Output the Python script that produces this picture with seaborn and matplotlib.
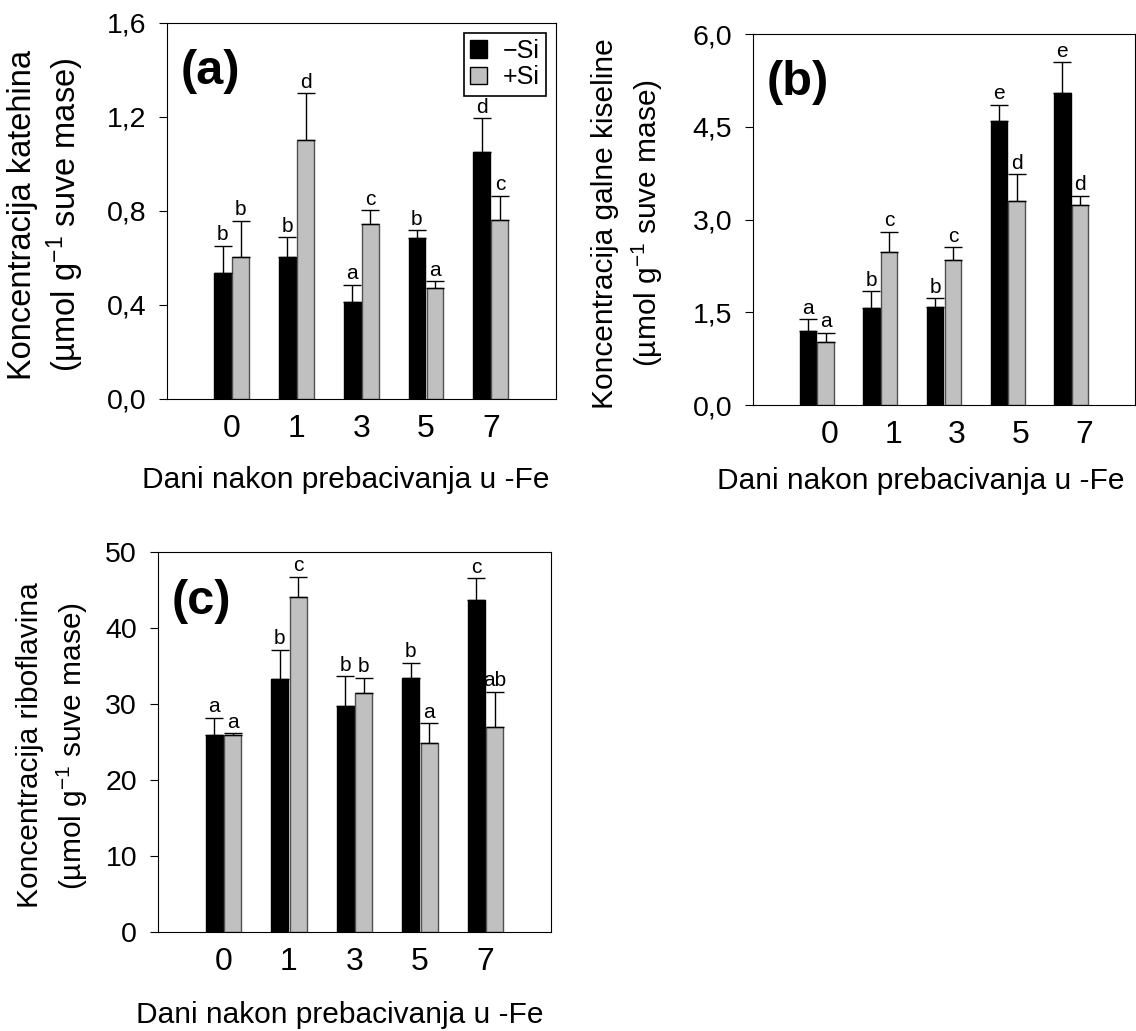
import numpy as np
import pandas as pd
import matplotlib
matplotlib.use('Agg')
import matplotlib.pyplot as plt
import seaborn as sns
from matplotlib.ticker import FuncFormatter

sns.set_style("ticks")
plt.rcParams['font.family'] = ['Liberation Sans', 'DejaVu Sans']
plt.rcParams['mathtext.default'] = 'regular'
plt.rcParams['text.color'] = 'black'
plt.rcParams['axes.labelcolor'] = 'black'
plt.rcParams['xtick.color'] = 'black'
plt.rcParams['ytick.color'] = 'black'

# days after transfer to -Fe
days = ['0', '1', '3', '5', '7']
groups = ['\u2212Si', '+Si']

# (a) catechin
kat_minus = [0.535, 0.602, 0.413, 0.683, 1.05]
kat_plus = [0.605, 1.10, 0.744, 0.470, 0.763]
kat_minus_err = [0.117, 0.085, 0.073, 0.034, 0.143]
kat_plus_err = [0.153, 0.20, 0.060, 0.030, 0.102]
kat_minus_let = ['b', 'b', 'a', 'b', 'd']
kat_plus_let = ['b', 'd', 'c', 'a', 'c']

# (b) gallic acid
gal_minus = [1.20, 1.565, 1.587, 4.60, 5.04]
gal_plus = [1.025, 2.47, 2.342, 3.303, 3.238]
gal_minus_err = [0.19, 0.28, 0.14, 0.26, 0.50]
gal_plus_err = [0.146, 0.335, 0.216, 0.43, 0.146]
gal_minus_let = ['a', 'b', 'b', 'e', 'e']
gal_plus_let = ['a', 'c', 'c', 'd', 'd']

# (c) riboflavin
rib_minus = [25.96, 33.2, 29.74, 33.33, 43.68]
rib_plus = [25.96, 44.0, 31.45, 24.78, 26.97]
rib_minus_err = [2.2, 3.9, 3.86, 2.06, 2.8]
rib_plus_err = [0.15, 2.7, 2.0, 2.63, 4.6]
rib_minus_let = ['a', 'b', 'b', 'b', 'c']
rib_plus_let = ['a', 'c', 'b', 'a', 'ab']

palette = {groups[0]: 'black', groups[1]: '#c0c0c0'}
xlabel = 'Dani nakon prebacivanja u -Fe'
unit = '(\u00b5mol g$^{-1}$ suve mase)'


def comma(v, pos):
    return f'{v:.1f}'.replace('.', ',')


def panel(ax, minus, plus, minus_err, plus_err, minus_let, plus_let,
          yticks, ylab, tag, fmt, xshift, ylab_x, ylab_size, ylab_ls,
          xlab_x, xlab_y):
    df = pd.DataFrame({
        'dan': days * 2,
        'grupa': [groups[0]] * 5 + [groups[1]] * 5,
        'vrednost': list(minus) + list(plus),
    })
    sns.barplot(data=df, x='dan', y='vrednost', hue='grupa', palette=palette,
                order=days, hue_order=groups, width=0.56, gap=0.08,
                errorbar=None, edgecolor='black', linewidth=1.0,
                saturation=1, ax=ax)
    for bar in ax.containers[1]:
        bar.set_edgecolor('#505050')

    # upper error bars and significance letters
    for cont, errs, lets in [(ax.containers[0], minus_err, minus_let),
                             (ax.containers[1], plus_err, plus_let)]:
        xs = [b.get_x() + b.get_width() / 2 for b in cont]
        ys = [b.get_height() for b in cont]
        ax.errorbar(xs, ys, yerr=[np.zeros(len(errs)), errs], fmt='none',
                    ecolor='black', elinewidth=1.0, capsize=6.5,
                    capthick=1.0)
        for x, y, e, t in zip(xs, ys, errs, lets):
            ax.annotate(t, (x, y + e), xytext=(0, 1),
                        textcoords='offset points', ha='center',
                        va='bottom', fontsize=15)

    ax.set_xlim(-1, 5)
    ax.set_ylim(yticks[0], yticks[-1])
    ax.set_yticks(yticks)
    ax.yaxis.set_major_formatter(FuncFormatter(fmt))
    ax.set_xticks(np.arange(len(days)) + xshift)
    ax.set_xticklabels(days)
    ax.tick_params(axis='x', length=0, pad=11, labelsize=23)
    ax.tick_params(axis='y', length=6, width=0.8, pad=9, labelsize=20.5,
                   direction='out')
    for s in ax.spines.values():
        s.set_visible(True)
        s.set_linewidth(0.8)
        s.set_color('black')

    ax.set_ylabel(ylab + '\n' + unit, fontsize=ylab_size, linespacing=ylab_ls)
    ax.yaxis.set_label_coords(ylab_x, 0.49)
    ax.set_xlabel(xlabel, fontsize=21.5)
    ax.xaxis.set_label_coords(xlab_x, xlab_y)
    ax.text(0.035, 0.87, tag, transform=ax.transAxes, fontsize=35,
            fontweight='bold', va='center', ha='left')
    ax.legend_.remove()


fig = plt.figure(figsize=(11.36, 10.31), dpi=100)
ax_a = fig.add_axes([0.147, 0.613, 0.342, 0.365])
ax_b = fig.add_axes([0.663, 0.607, 0.336, 0.360])
ax_c = fig.add_axes([0.139, 0.096, 0.346, 0.369])

panel(ax_a, kat_minus, kat_plus, kat_minus_err, kat_plus_err,
      kat_minus_let, kat_plus_let, [0, 0.4, 0.8, 1.2, 1.6],
      'Koncentracija katehina', '(a)', comma, 0.0, -0.208, 23.5, 1.2,
      0.46, -0.178)
panel(ax_b, gal_minus, gal_plus, gal_minus_err, gal_plus_err,
      gal_minus_let, gal_plus_let, [0, 1.5, 3.0, 4.5, 6.0],
      'Koncentracija galne kiseline', '(b)', comma, 0.2, -0.232, 21.5, 1.38,
      0.44, -0.167)
panel(ax_c, rib_minus, rib_plus, rib_minus_err, rib_plus_err,
      rib_minus_let, rib_plus_let, [0, 10, 20, 30, 40, 50],
      'Koncentracija riboflavina', '(c)', lambda v, p: f'{v:.0f}', 0.0,
      -0.172, 21.5, 1.4, 0.463, -0.18)

# legend only in panel (a)
handles, labels = ax_a.get_legend_handles_labels()
ax_a.legend(handles[:2], labels[:2], loc='upper right', fontsize=18,
            frameon=True, fancybox=False, framealpha=1, edgecolor='black',
            handlelength=0.7, handleheight=0.7, handletextpad=0.6,
            borderpad=0.25, labelspacing=0.1, borderaxespad=0.4)
ax_a.get_legend().get_frame().set_linewidth(1.2)

fig.savefig('out.png', dpi=100)
